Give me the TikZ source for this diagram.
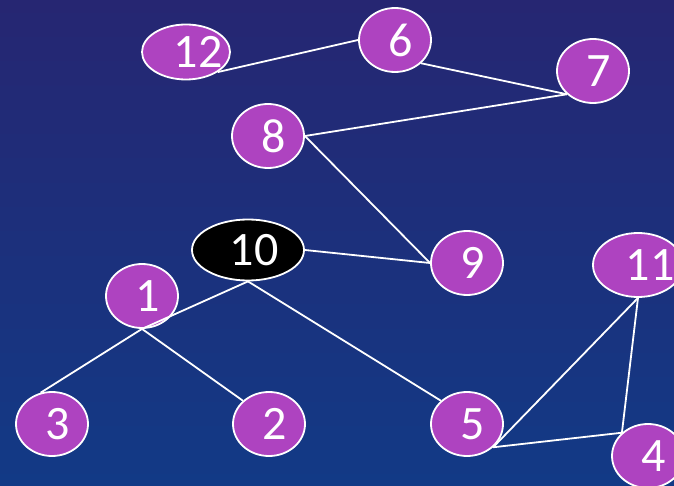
\documentclass[tikz,border=0pt]{standalone}
\usepackage{fontspec}
\setmainfont{Carlito}
\usetikzlibrary{shapes.geometric}
\definecolor{bgtop}{RGB}{38,38,114}
\definecolor{bgbot}{RGB}{18,58,134}
\definecolor{vpurple}{RGB}{174,67,192}
% digits sit a little right of the ellipse centre
\newcommand{\vlbl}[2][6pt]{\makebox[0pt]{\hspace*{#1}\hspace*{#1}#2}}

\begin{document}
\begin{tikzpicture}[x=1pt, y=-1pt,
    vert/.style={ellipse, draw=white, fill=vpurple, line width=1.8pt, minimum width=72pt, minimum height=64pt, inner sep=0pt, text=white, font=\fontsize{48}{48}\selectfont},
    hub/.style={vert, fill=black, minimum width=112pt, minimum height=61pt},
    edge/.style={draw=white, line width=1.8pt}
]
\useasboundingbox (0,0) rectangle (674,486);
\clip (0,0) rectangle (674,486);
\shade[top color=bgtop, bottom color=bgbot] (0,0) rectangle (674,486);

\node[vert, minimum width=88pt, minimum height=55pt] (n12) at (186,52) {\vlbl[12pt]{12}};
\node[vert] (n6) at (395,40) {\vlbl{6}};
\node[vert] (n7) at (593,71) {\vlbl{7}};
\node[vert] (n8) at (268,136) {\vlbl{8}};
\node[hub] (n10) at (248,250) {\vlbl{10}};
\node[vert] (n9) at (467,263) {\vlbl{9}};
\node[vert, minimum width=90pt] (n11) at (638,265) {\vlbl[12pt]{11}};
\node[vert] (n1) at (142,296) {\vlbl{1}};
\node[vert] (n3) at (52,424) {\vlbl{3}};
\node[vert] (n2) at (269,424) {\vlbl{2}};
\node[vert] (n5) at (467,424) {\vlbl{5}};
\node[vert] (n4) at (648,456) {\vlbl{4}};

\draw[edge] (n12.south east) -- (n6.west);
\draw[edge] (n6.south east) -- (n7.south west);
\draw[edge] (n8.east) -- (n7.south west);
\draw[edge] (n8.east) -- (n9.west);
\draw[edge] (n10.east) -- (n9.west);
\draw[edge] (n10.south) -- (n1.south);
\draw[edge] (n1.south) -- (n3.110);
\draw[edge] (n1.south) -- (n2.north west);
\draw[edge] (n10.south) -- (n5.north west);
\draw[edge] (n5.south east) -- (n11.south);
\draw[edge] (n5.south east) -- (n4.north west);
\draw[edge] (n11.south) -- (n4.north west);

\end{tikzpicture}
\end{document}
